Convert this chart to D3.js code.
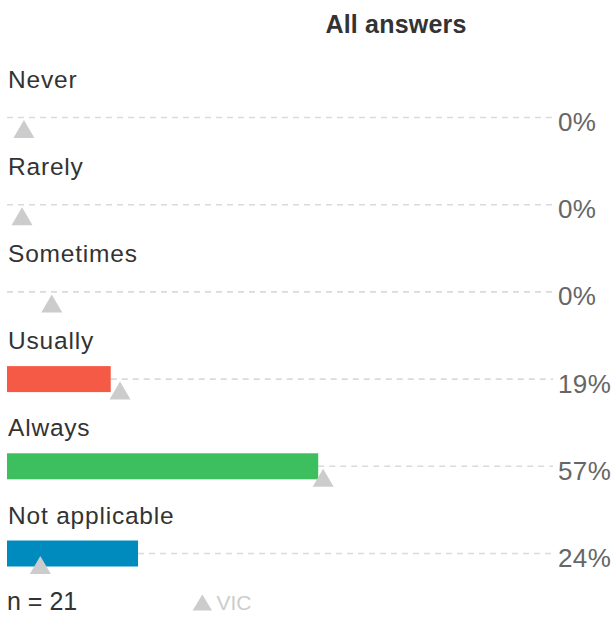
<!DOCTYPE html>
<html>
<head>
<meta charset="utf-8">
<script src="https://cdn.jsdelivr.net/npm/d3@7"></script>
<style>
  html, body { margin: 0; padding: 0; background: #fff; }
  svg { display: block; font-family: "Liberation Sans", Arial, Helvetica, sans-serif; }
</style>
</head>
<body>
<svg id="chart" width="613" height="617"></svg>
<script>
// Survey answers (percent of respondents) and the VIC comparison markers
const categories = ["Never", "Rarely", "Sometimes", "Usually", "Always", "Not applicable"];
const values = [0, 0, 0, 19, 57, 24];
const vicValues = [3.1, 2.75, 8.2, 20.7, 57.9, 6.1];
const barColors = ["#f55a46", "#f55a46", "#f55a46", "#f55a46", "#3dbe5f", "#008bbf"];
const title = "All answers";
const sampleSize = 21;
const legendLabel = "VIC";

const svg = d3.select("#chart");

const x = d3.scaleLinear().domain([0, 100]).range([7, 553]);
const y = d3.scalePoint().domain(categories).range([117.5, 553.5]);

const barH = 26;
const triW = 21, triH = 18;

svg.append("text")
  .attr("x", 396).attr("y", 32.5)
  .attr("text-anchor", "middle")
  .attr("font-size", 25).attr("font-weight", "bold")
  .attr("letter-spacing", 0.2)
  .attr("fill", "#333")
  .text(title);

const rows = svg.selectAll("g.row")
  .data(categories.map((c, i) => ({ c, v: values[i], vic: vicValues[i], color: barColors[i] })))
  .join("g").attr("class", "row");

// category label
rows.append("text")
  .attr("x", 8).attr("y", d => y(d.c) - 30)
  .attr("font-size", 24.5).attr("letter-spacing", 0.8)
  .attr("fill", "#333")
  .text(d => d.c);

// dashed guide from bar end to full scale
rows.append("line")
  .attr("x1", d => x(d.v)).attr("x2", x(100))
  .attr("y1", d => y(d.c)).attr("y2", d => y(d.c))
  .attr("stroke", "#dadada").attr("stroke-width", 1.6)
  .attr("stroke-dasharray", "6,5");

// bar
rows.filter(d => d.v > 0).append("rect")
  .attr("x", x(0)).attr("y", d => y(d.c) - barH / 2)
  .attr("width", d => x(d.v) - x(0)).attr("height", barH)
  .attr("fill", d => d.color);

// VIC marker triangle, apex just below the guide line
rows.append("path")
  .attr("d", d => {
    const cx = x(d.vic), top = y(d.c) + 2.5;
    return `M${cx},${top}L${cx + triW / 2},${top + triH}L${cx - triW / 2},${top + triH}Z`;
  })
  .attr("fill", "#cccccc");

// percentage label
rows.append("text")
  .attr("x", 558).attr("y", d => y(d.c) + 13.4)
  .attr("font-size", 26).attr("letter-spacing", 0.4)
  .attr("fill", "#666")
  .text(d => d3.format(".0f")(d.v) + "%");

// footer: sample size and legend
svg.append("text")
  .attr("x", 7).attr("y", 610)
  .attr("font-size", 25).attr("fill", "#333")
  .text("n = " + sampleSize);

const lg = svg.append("g");
lg.append("path")
  .attr("d", "M202.3,594.5L212,610.5L192.6,610.5Z")
  .attr("fill", "#cccccc");
lg.append("text")
  .attr("x", 216.5).attr("y", 610)
  .attr("font-size", 21).attr("fill", "#cccccc")
  .text(legendLabel);
</script>
</body>
</html>
